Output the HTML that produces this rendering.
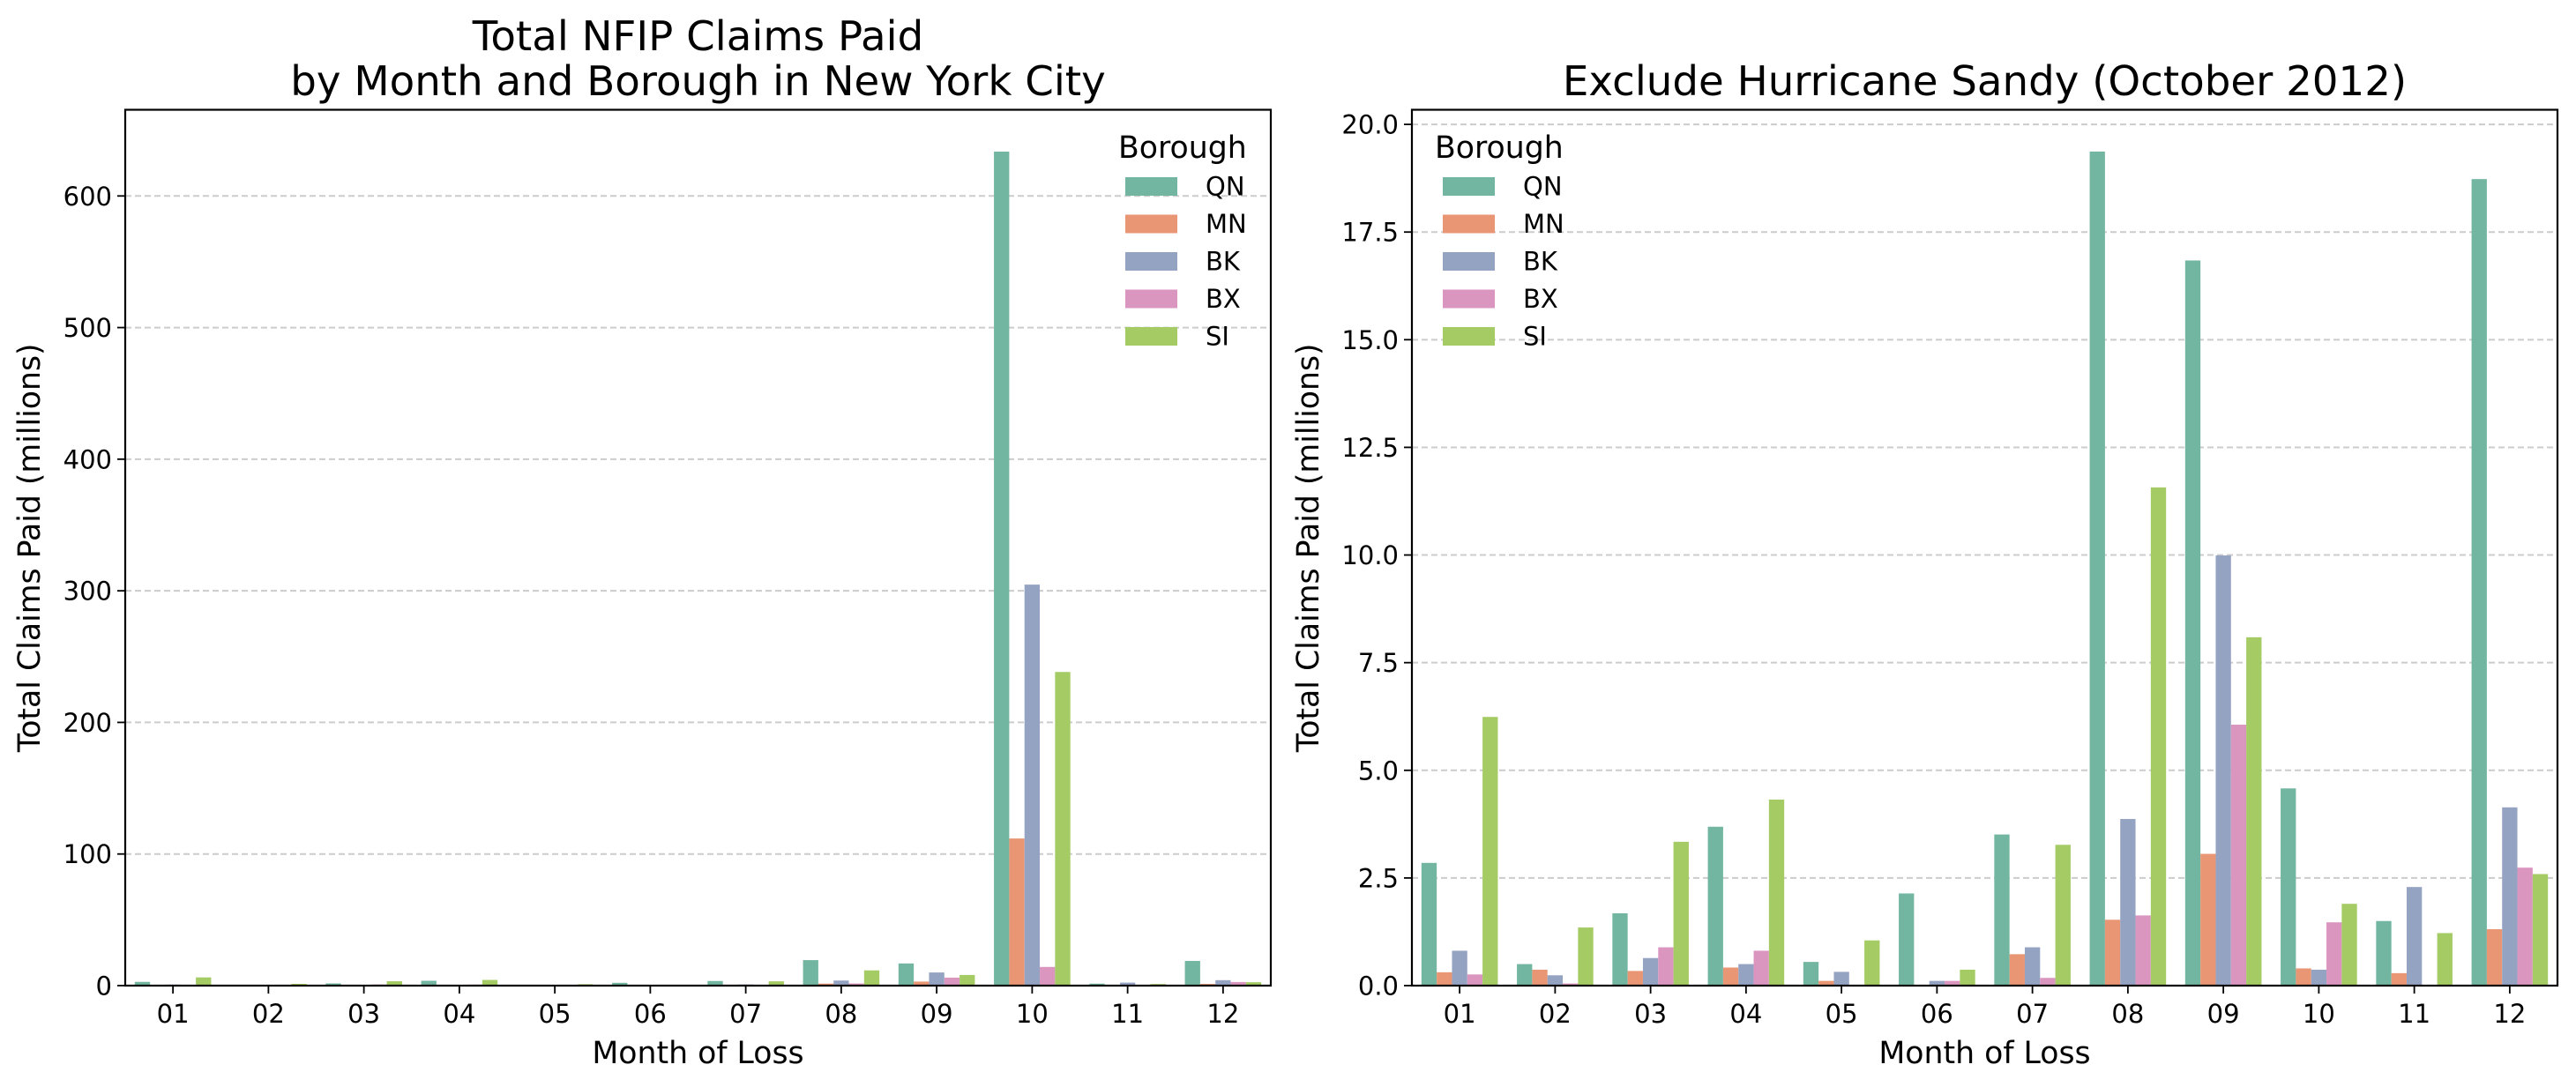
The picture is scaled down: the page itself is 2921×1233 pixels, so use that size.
<!DOCTYPE html>
<html><head><meta charset="utf-8"><style>
html,body{margin:0;padding:0;background:#fff}
svg{display:block;font-family:"DejaVu Sans","Liberation Sans",sans-serif}
</style></head><body>
<svg id="chart" width="2921" height="1233" viewBox="0 0 2921 1233" xmlns="http://www.w3.org/2000/svg"></svg>
<script>
const months = ["01","02","03","04","05","06","07","08","09","10","11","12"];
const boroughs = ["QN","MN","BK","BX","SI"];
const colors = ["#72b6a1","#e99675","#95a3c3","#db96c0","#a4cb64"];
// all months including Sandy (millions)
const allQN = [2.85,0.50,1.68,3.69,0.55,2.14,3.51,19.37,16.84,633.7,1.50,18.73];
const allMN = [0.31,0.37,0.34,0.42,0.11,0.0,0.73,1.53,3.06,111.8,0.29,1.31];
const allBK = [0.81,0.24,0.64,0.50,0.32,0.11,0.89,3.87,9.99,304.7,2.29,4.14];
const allBX = [0.26,0.05,0.89,0.81,0.02,0.11,0.18,1.63,6.06,14.2,0.02,2.74];
const allSI = [6.24,1.35,3.34,4.32,1.05,0.37,3.27,11.57,8.09,238.3,1.22,2.59];
// excluding Hurricane Sandy (millions)
const exQN = [2.85,0.50,1.68,3.69,0.55,2.14,3.51,19.37,16.84,4.58,1.50,18.73];
const exMN = [0.31,0.37,0.34,0.42,0.11,0.0,0.73,1.53,3.06,0.40,0.29,1.31];
const exBK = [0.81,0.24,0.64,0.50,0.32,0.11,0.89,3.87,9.99,0.37,2.29,4.14];
const exBX = [0.26,0.05,0.89,0.81,0.02,0.11,0.18,1.63,6.06,1.47,0.02,2.74];
const exSI = [6.24,1.35,3.34,4.32,1.05,0.37,3.27,11.57,8.09,1.90,1.22,2.59];
const leftTicks = [0,100,200,300,400,500,600];
const rightTicks = ["0.0","2.5","5.0","7.5","10.0","12.5","15.0","17.5","20.0"];

const NS="http://www.w3.org/2000/svg";
const svg=document.getElementById('chart');
function mk(tag,attrs,parent){const e=document.createElementNS(NS,tag);for(const k in attrs)e.setAttribute(k,attrs[k]);(parent||svg).appendChild(e);return e;}

function panel(cfg){
  const g=mk('g',{});
  
  
  const L=cfg.x0,R=cfg.x1,T=124.5,B=1118;
  const ymax=cfg.ymax;
  const yS=v=>B-v/ymax*(B-T);
  const band=(R-L)/12;
  const xC=i=>L+band*(i+0.5);
  cfg.ticks.forEach(t=>{
    const v=parseFloat(t);const y=yS(v);
    const gl=mk('line',{x1:L,x2:R,y1:y,y2:y,stroke:'#cccccc','stroke-width':2,'stroke-dasharray':'7,4'},g);
    
    
    mk('line',{x1:L-9,x2:L,y1:y,y2:y,stroke:'#000','stroke-width':1.8},g);
    const tl=mk('text',{x:L-15,y:y+10.5,'font-size':29,'text-anchor':'end',fill:'#000'},g);
    tl.textContent=t;
    
    
  });
  const series=cfg.series;
  series.forEach((arr,s)=>{
    arr.forEach((v,i)=>{
      const w=band*0.16;
      const x=xC(i)-band*0.4+w*s;
      const y=yS(v);
      const r=mk('rect',{x:x,y:y,width:w,height:Math.max(0,B-y),fill:colors[s]},g);
      
      
    });
  });
  months.forEach((m,i)=>{
    mk('line',{x1:xC(i),x2:xC(i),y1:B,y2:B+9,stroke:'#000','stroke-width':1.8},g);
    const tl=mk('text',{x:xC(i),y:1160,'font-size':29,'text-anchor':'middle',fill:'#000'},g);
    tl.textContent=m;
    
    
  });
  const fr=mk('rect',{x:L,y:T,width:R-L,height:B-T,fill:'none',stroke:'#000','stroke-width':2.2},g);
  
  
  const xl=mk('text',{x:(L+R)/2,y:1206,'font-size':34.7,'text-anchor':'middle'},g);
  xl.textContent='Month of Loss';
  
  
  const yl=mk('text',{x:0,y:0,'font-size':34.7,'text-anchor':'middle',transform:`translate(${cfg.ylx},${(T+B)/2}) rotate(-90)`},g);
  yl.textContent='Total Claims Paid (millions)';
  
  
  cfg.title.forEach((t,k)=>{
    const tt=mk('text',{x:(L+R)/2,y:cfg.titleY[k],'font-size':46.7,'text-anchor':'middle'},g);
    tt.textContent=t;
    
    
  });
  const lg=mk('g',{},g);
  
  
  const lt=mk('text',{x:cfg.legX,y:179,'font-size':34.7},lg);
  lt.textContent='Borough';
  
  
  boroughs.forEach((b,s)=>{
    const y=201+42.5*s;
    const p=mk('rect',{x:cfg.legX+cfg.patchOff,y:y,width:59,height:21,fill:colors[s]},lg);
    
    
    const tx=mk('text',{x:cfg.legX+cfg.patchOff+91,y:y+20.5,'font-size':29},lg);
    tx.textContent=b;
    
    
  });
}
panel({name:'all-claims-panel',x0:142,x1:1441,ymax:665.5,ticks:leftTicks.map(String),series:[allQN,allMN,allBK,allBX,allSI],ylx:45,title:['Total NFIP Claims Paid','by Month and Borough in New York City'],titleY:[57,108],legX:1268,patchOff:8});
panel({name:'exclude-sandy-panel',x0:1601,x1:2900,ymax:20.34,ticks:rightTicks,series:[exQN,exMN,exBK,exBX,exSI],ylx:1495,title:['Exclude Hurricane Sandy (October 2012)'],titleY:[108],legX:1627,patchOff:9});
</script>
</body></html>
